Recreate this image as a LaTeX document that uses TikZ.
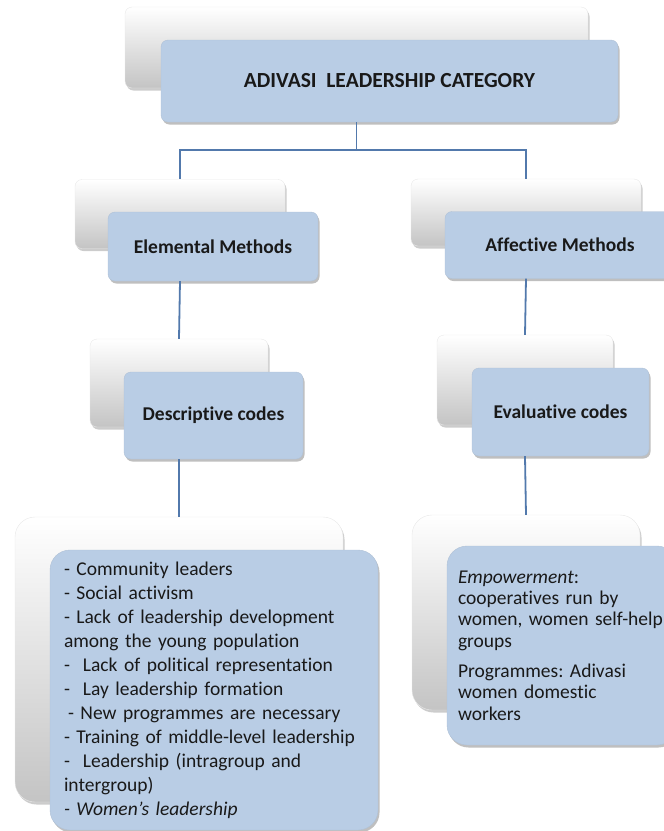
\documentclass[tikz,border=0pt]{standalone}
\usepackage{fontspec}
\setmainfont{Carlito}[RawFeature=-liga]
\frenchspacing
\usetikzlibrary{shadows}
\definecolor{boxblue}{HTML}{B9CDE5}
\definecolor{linkblue}{HTML}{5279AC}
\definecolor{backgray}{HTML}{C4C4C4}

\begin{document}
\begin{tikzpicture}[x=1pt, y=-1pt,
    backbox/.style={rounded corners=7pt, draw=gray!18, top color=white, bottom color=backgray, inner sep=0pt,
        drop shadow={shadow xshift=1.5pt, shadow yshift=-2.5pt, fill=black, opacity=0.2}},
    frontbox/.style={rounded corners=7pt, draw=boxblue!85!gray, fill=boxblue, inner sep=0pt, text=black!90,
        drop shadow={shadow xshift=1.5pt, shadow yshift=-2.5pt, fill=black, opacity=0.25}},
    headtext/.style={font=\bfseries\fontsize{19.5}{23}\selectfont},
    link/.style={draw=linkblue, line width=1.8pt}]
    \useasboundingbox (0, 0) rectangle (664, 831);

    \node[backbox, minimum width=463pt, minimum height=81pt] at (356.5, 47.5) (topback) {};
    \node[frontbox, minimum width=457pt, minimum height=82pt, font=\bfseries\fontsize{21.5}{26}\selectfont] at (389.5, 81) (topfront) {ADIVASI\ \ LEADERSHIP CATEGORY};

    \node[backbox, minimum width=210pt, minimum height=69pt] at (180, 214) (elemback) {};
    \node[frontbox, headtext, minimum width=210pt, minimum height=69pt] at (213, 246.5) (elemfront) {Elemental Methods};
    \node[backbox, minimum width=230pt, minimum height=67pt] at (526, 212.5) (affback) {};
    \node[frontbox, headtext, minimum width=230pt, minimum height=67pt] at (560, 245) (afffront) {Affective Methods};

    \node[backbox, minimum width=178pt, minimum height=88pt] at (179, 383) (descback) {};
    \node[frontbox, headtext, minimum width=179pt, minimum height=87pt] at (213.5, 415.5) (descfront) {Descriptive codes};
    \node[backbox, minimum width=176pt, minimum height=90pt] at (525, 380) (evalback) {};
    \node[frontbox, headtext, minimum width=177pt, minimum height=88pt] at (560.5, 412) (evalfront) {Evaluative codes};

    \node[backbox, rounded corners=20pt, minimum width=328pt, minimum height=285pt] at (179, 659.5) (listback) {};
    \node[frontbox, rounded corners=20pt, text width=300pt, inner xsep=14pt, minimum height=280pt, align=left,
        font=\fontsize{19.5}{24}\selectfont] at (214, 690) (listfront) {%
        - Community leaders\\
        - Social activism\\
        - Lack of leadership development\\
        among the young population\\
        -\ \ Lack of political representation\\
        -\ \ Lay leadership formation\\
        \hspace*{4pt}- New programmes are necessary\\
        - Training of middle-level leadership\\
        -\ \ Leadership (intragroup and\\
        intergroup)\\
        \textit{- Women's leadership}};
    \node[backbox, rounded corners=20pt, minimum width=228pt, minimum height=195pt] at (526, 612.5) (empback) {};
    \node[frontbox, rounded corners=20pt, text width=208pt, inner xsep=11pt, minimum height=199pt, align=left,
        font=\fontsize{19.5}{21.3}\selectfont] at (562, 645.5) (empfront) {%
        \textit{Empowerment}:\\
        cooperatives run by\\
        women, women self-help\\
        groups\\[9pt]
        Programmes: Adivasi\\
        women domestic\\
        workers};

    \coordinate (split) at (356.5, 150);

    \draw[link] (topback |- topfront.south) -- (split);
    \draw[link] (split) -| (elemback.north);
    \draw[link] (split) -| (affback.north);
    \draw[link] (elemback |- elemfront.south) -- (descback.north);
    \draw[link] (descback |- descfront.south) -- (listback.north);
    \draw[link] (affback |- afffront.south) -- (evalback.north);
    \draw[link] (evalback |- evalfront.south) -- (empback.north);
\end{tikzpicture}
\end{document}
